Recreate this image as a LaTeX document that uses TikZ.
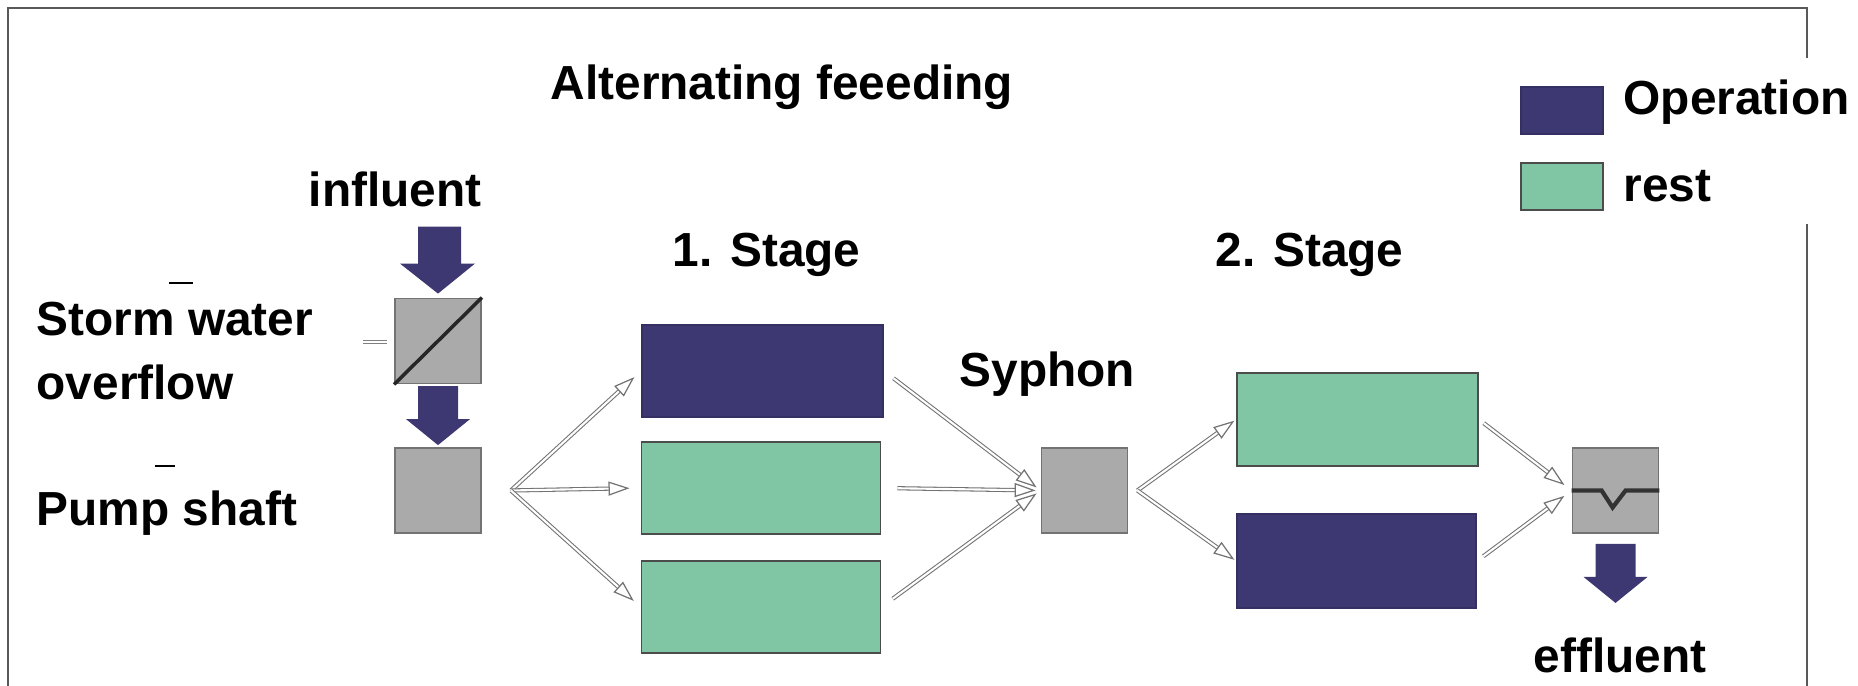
\documentclass[tikz,border=0pt]{standalone}
\usepackage{fontspec}
\setmainfont{Liberation Sans}
\usetikzlibrary{arrows.meta, positioning}
\definecolor{opcolor}{RGB}{61,56,114}
\definecolor{restcolor}{RGB}{128,198,164}
\definecolor{tankcolor}{RGB}{170,170,170}

\begin{document}
\begin{tikzpicture}[
    x=0.01cm, y=-0.01cm,
    lbl/.style={inner sep=0pt, anchor=base west, font=\fontsize{13.6}{18.2}\selectfont\bfseries, align=left},
    basin/.style={line width=0.5pt, minimum width=2.39cm, minimum height=0.92cm, inner sep=0pt},
    op/.style={basin, fill=opcolor, draw=opcolor!85!black},
    rest/.style={basin, fill=restcolor, draw=black!70},
    tank/.style={draw=black!55, line width=0.5pt, fill=tankcolor, minimum width=0.86cm, minimum height=0.85cm, inner sep=0pt},
    flow/.style={draw=black!55, line width=0.3pt, double=white, double distance=0.6pt, -{Triangle[open, fill=white, line width=0.35pt, length=0.21cm, width=0.14cm]}},
    block/.style={fill=opcolor}
]
    \useasboundingbox (0,0) rectangle (1858,686);

    % frame
    \draw[black!65, line width=0.6pt] (8,686) -- (8,8) -- (1807,8) -- (1807,58);
    \draw[black!65, line width=0.6pt] (1807,224) -- (1807,686);

    % texts
    \node[lbl] (title) at (550,100) {Alternating feeeding};
    \node[lbl] (infl) at (308,207) {influent};
    \node[lbl] (storm) at (36,400) {Storm water\\overflow};
    \node[lbl] (pumplbl) at (36,526) {Pump shaft};
    \node[lbl] (st1) at (672,267) {1. Stage};
    \node[lbl] (st2) at (1215,267) {2. Stage};
    \node[lbl] (syphlbl) at (959,387) {Syphon};
    \node[lbl] (eff) at (1533,673) {effluent};

    % legend
    \node[op, minimum width=0.82cm, minimum height=0.47cm] (legop) at (1562,110.5) {};
    \node[rest, minimum width=0.82cm, minimum height=0.47cm] (legrest) at (1562,186.5) {};
    \node[lbl] (legoptxt) at (1623,115) {Operation};
    \node[lbl] (legresttxt) at (1623,202) {rest};

    % small marks
    \draw[black, line width=0.6pt] (169,283) -- (193,283);
    \draw[black!50, line width=0.3pt, double=white, double distance=0.5pt] (363,342) -- (387,342);
    \draw[black, line width=0.6pt] (155,466) -- (175,466);

    % tanks
    \node[tank] (ovf) at (438,341) {};
    \draw[black!85, line width=1pt] (ovf.south west) -- (ovf.north east);
    \node[tank] (pump) at (438,490.5) {};
    \node[tank] (syph) at (1084.5,490.5) {};
    \node[tank] (weir) at (1615.5,490.5) {};
    \draw[black!80, line width=1.2pt] (weir.west) -- ++(30,0) -- ++(11,17) -- ++(13,-17) -- (weir.east);

    % basins
    \node[op, minimum width=2.41cm] (s1a) at (762.5,371) {};
    \node[rest] (s1b) at (761,488) {};
    \node[rest] (s1c) at (761,607) {};
    \node[rest, minimum width=2.41cm, minimum height=0.93cm] (s2a) at (1357.5,419.5) {};
    \node[op, minimum height=0.94cm] (s2b) at (1356.5,561) {};

    % block arrows
    \fill[block] ([yshift=0.04cm]ovf.north) -- ++(-38,-30) -- ++(18,0) -- ++(0,-37) -- ++(43,0) -- ++(0,37) -- ++(14,0) -- cycle;
    \fill[block] ([yshift=0.02cm]pump.north) -- ++(-32,-26) -- ++(12,0) -- ++(0,-33) -- ++(40,0) -- ++(0,33) -- ++(12,0) -- cycle;
    \fill[block] ([yshift=-0.69cm]weir.south) -- ++(-32,-26) -- ++(12,0) -- ++(0,-33) -- ++(40,0) -- ++(0,33) -- ++(12,0) -- cycle;

    % flows
    \coordinate (pumpout) at ([xshift=0.29cm]pump.east);
    \coordinate (syphout) at ([xshift=0.09cm]syph.east);
    \draw[flow, shorten >=0.09cm] (pumpout) -- (s1a.west);
    \draw[flow, shorten >=0.11cm] (pumpout) -- (s1b.west);
    \draw[flow, shorten >=0.09cm] (pumpout) -- (s1c.west);
    \draw[flow, shorten <=0.12cm, shorten >=0.05cm] (s1a.east) -- (syph.west);
    \draw[flow, shorten <=0.16cm, shorten >=0.05cm] (s1b.east) -- (syph.west);
    \draw[flow, shorten <=0.14cm, shorten >=0.05cm] (s1c.east) -- (syph.west);
    \draw[flow, shorten >=0.02cm] (syphout) -- (s2a.west);
    \draw[flow, shorten >=0.02cm] (syphout) -- (s2b.west);
    \draw[flow, shorten <=0.06cm, shorten >=0.09cm] (s2a.east) -- (weir.west);
    \draw[flow, shorten <=0.08cm, shorten >=0.09cm] (s2b.east) -- (weir.west);
\end{tikzpicture}
\end{document}
